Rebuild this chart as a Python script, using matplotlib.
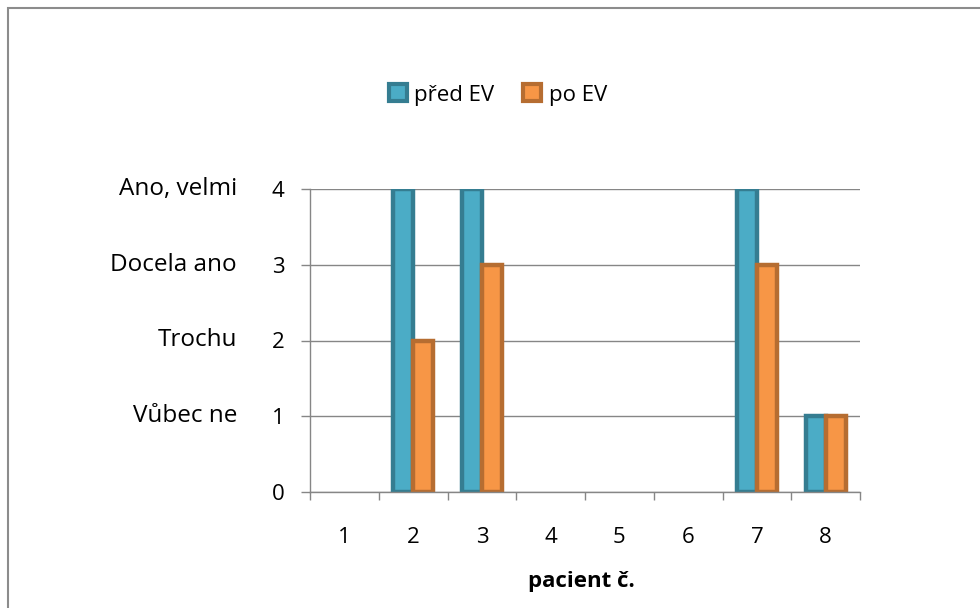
import matplotlib
matplotlib.use('Agg')
import numpy as np
from matplotlib import pyplot as plt
from matplotlib.patches import Rectangle, Patch

plt.rcParams['font.family'] = ['Open Sans', 'DejaVu Sans']

# patient numbers and answers before / after
patients = [1, 2, 3, 4, 5, 6, 7, 8]
pred_ev = [0, 4, 4, 0, 0, 0, 4, 1]
po_ev = [0, 2, 3, 0, 0, 0, 3, 1]
answers = ['Vůbec ne', 'Trochu', 'Docela ano', 'Ano, velmi']

fig = plt.figure(figsize=(9.8, 6.08), dpi=100)
ax = fig.add_axes([310 / 980, 1 - 492 / 608, 550 / 980, 303 / 608])

# outer frame of the chart
fig.patches.append(Rectangle((7.5 / 980, -0.1), 1.2, 1 - 7.5 / 608 + 0.1,
                             transform=fig.transFigure, fill=False,
                             edgecolor='#8c8c8c', linewidth=1.5))

series = [(pred_ev, -1, '#4bacc6', '#357d91', 'před EV'),
          (po_ev, 1, '#f79646', '#b66d31', 'po EV')]

x = np.array(patients)
w = 0.29
handles = []
for vals, side, fc, ec, lab in series:
    bars = ax.bar(x + side * w / 2, vals, width=w, color=fc, edgecolor=ec,
                  linewidth=3.2, zorder=3)
    # empty answers leave no mark
    for b, v in zip(bars, vals):
        if v == 0:
            b.set_visible(False)
    handles.append(Patch(facecolor=fc, edgecolor=ec, linewidth=3, label=lab))

ax.set_xlim(0.5, 8.5)
ax.set_ylim(0, 4)
ax.set_yticks(range(5))
ax.set_xticks(patients)
ax.set_xticks(np.arange(0.5, 9, 1), minor=True)
ax.tick_params(axis='x', which='major', length=0, pad=25, labelsize=16)
ax.tick_params(axis='x', which='minor', length=6, width=1, color='#868686')
ax.tick_params(axis='y', length=6.5, width=1, color='#868686', pad=12,
               labelsize=16)
ax.yaxis.grid(True, color='#868686', linewidth=1)
ax.set_axisbelow(True)
for s in ['top', 'right']:
    ax.spines[s].set_visible(False)
for s in ['left', 'bottom']:
    ax.spines[s].set_color('#868686')
    ax.spines[s].set_linewidth(1)
    ax.spines[s].set_zorder(4)

# verbal scale next to the numbers
for i, txt in enumerate(answers):
    ax.text(-73 / 550, i + 1, txt, transform=ax.get_yaxis_transform(),
            ha='right', va='center', fontsize=17.5)

fig.text(581 / 980, 1 - 582 / 608, 'pacient č.', ha='center', va='center',
         fontsize=16, fontweight='bold')

fig.legend(handles=handles, loc='center',
           bbox_to_anchor=(498 / 980, 1 - 95 / 608), ncol=2,
           frameon=False, fontsize=16, handlelength=0.8, handleheight=0.8,
           handletextpad=0.35, columnspacing=1.3)

fig.savefig('out.png', dpi=100, facecolor='white')
